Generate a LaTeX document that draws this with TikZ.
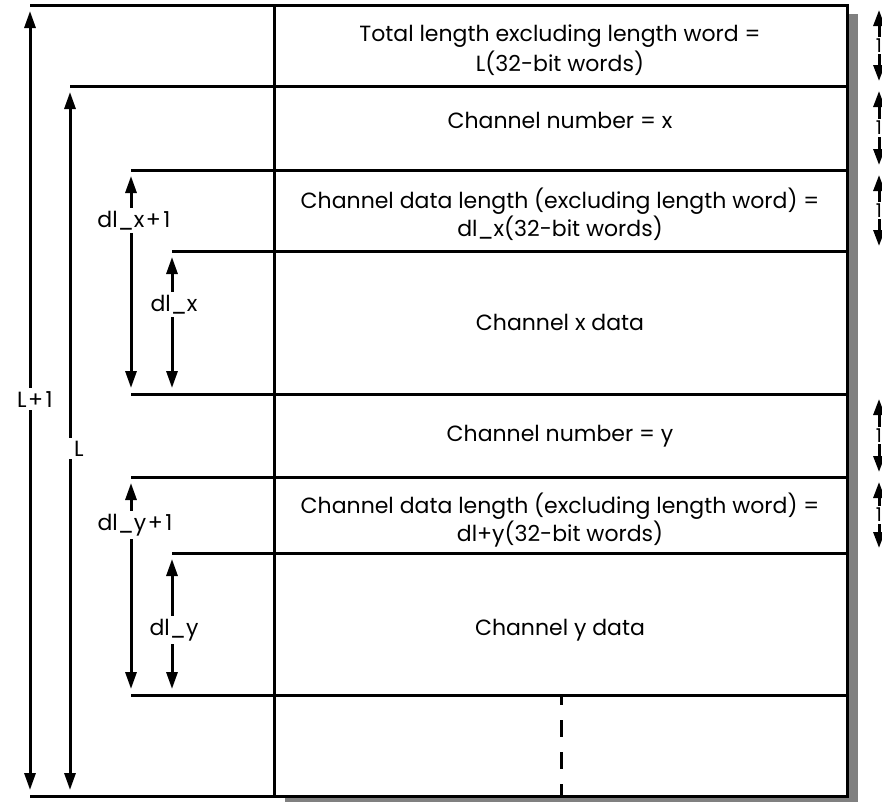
\documentclass[tikz,border=0pt]{standalone}
\usepackage{fontspec}
\setmainfont{Poppins}
\usetikzlibrary{arrows.meta}
\definecolor{shadowgray}{HTML}{808080}
\newcommand\mainfs{\fontsize{22}{26}\selectfont}
\newcommand\onefs{\fontsize{19}{22}\selectfont}
\newcommand\wideplus{\kern1.5pt+\kern2.5pt}
\begin{document}
\begin{tikzpicture}[x=1pt,y=-1pt,
  frame/.style={line width=3pt},
  rule/.style={line width=3pt},
  dimarrow/.style={line width=3pt,
    {Triangle[length=17pt,width=11pt]}-{Triangle[length=17pt,width=11pt]},
    shorten <=6pt, shorten >=6pt},
  onearrow/.style={line width=3pt,
    {Triangle[length=16pt,width=11pt]}-{Triangle[length=16pt,width=11pt]},
    shorten <=5pt, shorten >=5pt},
  rowtext/.style={font=\mainfs, inner sep=0pt, anchor=base},
  dimlabel/.style={font=\mainfs, fill=white, inner sep=3pt, anchor=base},
  onelabel/.style={font=\onefs, fill=white, inner sep=2pt}
]
\useasboundingbox (0,0) rectangle (882,801);
% shadow and frame
\fill[shadowgray] (285,14) rectangle (858,807);
\draw[frame, fill=white] (274,5) rectangle (847,796);
% line ends
\coordinate (R) at (847,0);
\coordinate (rx) at (879,0);
\coordinate (t0) at (30,5);
\coordinate (t1) at (70,86);
\coordinate (t2) at (131,170);
\coordinate (t3) at (172,251);
\coordinate (t4) at (131,394);
\coordinate (t5) at (131,477);
\coordinate (t6) at (172,553);
\coordinate (t7) at (131,695);
\coordinate (t8) at (30,796);
\foreach \c in {t0,t1,t2,t3,t4,t5,t6,t7,t8}
  \draw[rule] (\c) -- (\c -| R);
% dashed divider in last row
\coordinate (d0) at (561,695);
\coordinate (d1) at (561,796);
\draw[rule, dash pattern=on 17pt off 15pt, dash phase=7pt] (d0) -- (d1);
% row texts
\node[rowtext] (r1a) at (560,41) {Total length excluding length word =};
\node[rowtext] (r1b) at (560,71) {L(32-bit words)};
\node[rowtext] (r2) at (560,128) {Channel number = x};
\node[rowtext] (r3a) at (560,208) {Channel data length (excluding length word) =};
\node[rowtext] (r3b) at (560,236) {dl\_x(32-bit words)};
\node[rowtext] (r4) at (560,330) {Channel x data};
\node[rowtext] (r5) at (560,441) {Channel number = y};
\node[rowtext] (r6a) at (560,513) {Channel data length (excluding length word) =};
\node[rowtext] (r6b) at (560,541) {dl+y(32-bit words)};
\node[rowtext] (r7) at (560,635) {Channel y data};
% left dimension arrows
\draw[dimarrow] (t0) -- (t8);
\draw[dimarrow] (t1) -- (t1 |- t8);
\draw[dimarrow] (t2) -- (t2 |- t4);
\draw[dimarrow] (t3) -- (t3 |- t4);
\draw[dimarrow] (t5) -- (t5 |- t7);
\draw[dimarrow] (t6) -- (t6 |- t7);
\node[dimlabel] (lL1) at (35,407) {L\wideplus1};
\node[dimlabel, inner xsep=6pt] (lL) at (79,456) {L};
\node[dimlabel] (lx1) at (134,227) {dl\_x\wideplus1};
\node[dimlabel] (lx) at (174,311) {dl\_x};
\node[dimlabel] (ly1) at (135,530) {dl\_y\wideplus1};
\node[dimlabel] (ly) at (174,635) {dl\_y};
% right one-word arrows
\draw[onearrow] (t0 -| rx) -- node[onelabel] (o1) {1} (t1 -| rx);
\draw[onearrow] (t1 -| rx) -- node[onelabel] (o2) {1} (t2 -| rx);
\draw[onearrow] (t2 -| rx) -- node[onelabel] (o3) {1} (t3 -| rx);
\draw[onearrow] (t4 -| rx) -- node[onelabel] (o4) {1} (t5 -| rx);
\draw[onearrow] (t5 -| rx) -- node[onelabel] (o5) {1} (t6 -| rx);
\end{tikzpicture}
\end{document}
